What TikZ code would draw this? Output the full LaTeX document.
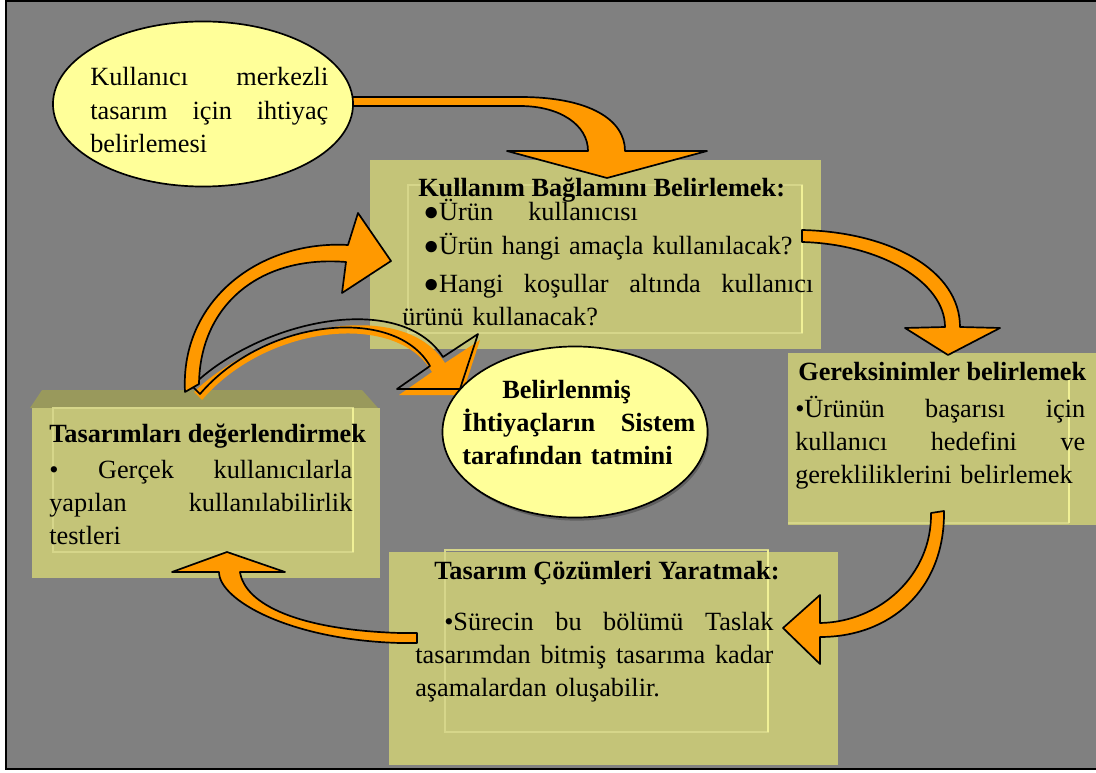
\documentclass[tikz,border=0pt]{standalone}
\usepackage{fontspec}
\setmainfont{Liberation Serif}
\usetikzlibrary{shapes.geometric}

\definecolor{slidegray}{RGB}{128,128,128}
\definecolor{panelfill}{RGB}{196,196,120}
\definecolor{panelshade}{RGB}{153,153,92}
\definecolor{panelline}{RGB}{214,214,138}
\definecolor{panelglow}{RGB}{240,240,150}
\definecolor{bubblefill}{RGB}{255,255,153}
\definecolor{bubbleshadow}{RGB}{96,96,96}
\definecolor{arroworange}{RGB}{255,153,0}

\begin{document}
\begin{tikzpicture}[x=0.025cm, y=-0.025cm,
    bodytext/.style={anchor=base west, align=left, inner sep=0pt, font=\fontsize{18.7}{23.5}\selectfont},
    headtext/.style={anchor=base west, inner sep=0pt, font=\fontsize{18.7}{23.5}\selectfont\bfseries},
    bubble/.style={ellipse, draw=black, line width=1.2pt, fill=bubblefill, inner sep=0pt},
    blockarrow/.style={fill=arroworange, draw=black, line width=1.2pt, line join=round},
    panelframe/.style={draw=panelline, line width=1pt},
    paneledge/.style={draw=panelglow, line width=1.6pt}]

    \useasboundingbox (0,0) rectangle (1096,773);

    % Draw the slide background and its frame
    \fill[white] (0,0) rectangle (1096,773);
    \filldraw[fill=slidegray, draw=black, line width=1.5pt] (6,1) rectangle (1110,769);

    % Draw the four process boxes
    \fill[panelfill] (370,160) rectangle (821,349);
    \draw[panelframe] (408,185) rectangle (802,333);
    \draw[paneledge] (802,185) -- (802,333);

    \fill[panelfill] (788,353) rectangle (1110,525);
    \draw[panelframe] (788,523) -- (1069,523);
    \draw[paneledge] (1069,380) -- (1069,523);

    \fill[panelfill] (389,552) rectangle (838,765);
    \draw[panelframe] (445,550) rectangle (768,732);
    \draw[paneledge] (768,550) -- (768,732);

    \fill[panelshade] (30,408) -- (42,390) -- (362,390) -- (378,408) -- cycle;
    \fill[panelfill] (32,408) rectangle (380,578);
    \draw[panelframe] (53,408) rectangle (353,552);
    \draw[paneledge] (353,408) -- (353,552);

    % Draw the shadowed arrow to the centre
    \fill[arroworange, shift={(2,6)}] (192,386) .. controls (260,320) and (400,290) .. (443,357)
        -- (478,334) -- (460,389) -- (397,389) -- (430,366)
        .. controls (395,305) and (265,318) .. (200,394) -- cycle;
    \draw[black, line width=1.2pt, line join=round] (192,386) .. controls (260,320) and (400,290) .. (443,357)
        -- (478,334) -- (460,389) -- (397,389) -- (430,366)
        .. controls (395,305) and (265,318) .. (200,394) -- cycle;

    % Draw the curved arrows of the cycle
    \filldraw[blockarrow] (185,392) .. controls (180,300) and (260,240) .. (348,245)
        -- (358,213) -- (391,261) -- (342,293) -- (346,262)
        .. controls (260,255) and (200,305) .. (199,384) -- cycle;
    \filldraw[blockarrow] (345,97) -- (520,97) .. controls (590,97) and (625,120) .. (625,151)
        -- (707,151) -- (607,178) -- (507,151) -- (588,151)
        .. controls (588,125) and (560,106) .. (520,106) -- (345,106) -- cycle;
    \filldraw[blockarrow] (802,230) .. controls (890,232) and (960,270) .. (960,327)
        -- (1000,328) -- (948,355) -- (905,328) -- (945,327)
        .. controls (945,282) and (880,244) .. (802,242) -- cycle;
    \filldraw[blockarrow] (931,513) -- (944,511) .. controls (945,590) and (890,637) .. (820,637)
        -- (820,664) -- (783,628) -- (820,595) -- (820,623)
        .. controls (880,622) and (932,575) .. (931,513) -- cycle;
    \filldraw[blockarrow] (417,643) -- (400,643) .. controls (290,640) and (219,600) .. (219,572)
        -- (172,572) -- (227,552) -- (285,572) -- (240,572)
        .. controls (245,605) and (300,630) .. (400,633) -- (417,633) -- cycle;

    % Draw the two ellipses
    \node[bubble, minimum width=7.5cm, minimum height=4.125cm] (need) at (203,104) {};
    \fill[bubbleshadow] (577,435) ellipse (3.3cm and 2.14cm);
    \node[bubble, minimum width=6.625cm, minimum height=4.275cm] (goal) at (575,432) {};

    % Texts of the ellipses
    \node[bodytext, text width=5.95cm] (needtext) at (90,86)
        {Kullanıcı\hfill merkezli\\ tasarım\hfill için\hfill ihtiyaç\\ belirlemesi};
    \node[bodytext, text width=5.825cm, font=\fontsize{18.7}{23.5}\selectfont\bfseries] (goaltext) at (462,398)
        {\hspace*{1cm}Belirlenmiş\\ İhtiyaçların\hfill Sistem\\ tarafından tatmini};

    % Texts of the boxes
    \node[headtext] (contexthead) at (418,197) {Kullanım Bağlamını Belirlemek:};
    \node[bodytext, text width=10.275cm] (contextlist) at (402,221)
        {\hspace*{0.525cm}●Ürün\hspace{25pt}kullanıcısı\\
         \hspace*{0.525cm}●Ürün hangi amaçla kullanılacak?\\[3.5pt]
         \hspace*{0.525cm}●Hangi\hfill koşullar\hfill altında\hfill kullanıcı\\
         ürünü kullanacak?};

    \node[headtext] (reqhead) at (798,380) {Gereksinimler belirlemek};
    \node[bodytext, text width=7.25cm] (reqtext) at (795,417)
        {•Ürünün\hfill başarısı\hfill için\\ kullanıcı\hfill hedefini\hfill ve\\ gerekliliklerini belirlemek};

    \node[headtext] (designhead) at (434,579) {Tasarım Çözümleri Yaratmak:};
    \node[bodytext, text width=8.95cm] (designtext) at (415,630)
        {\hspace*{0.725cm}•Sürecin\hfill bu\hfill bölümü\hfill Taslak\\
         tasarımdan\hfill bitmiş\hfill tasarıma\hfill kadar\\ aşamalardan oluşabilir.};

    \node[headtext] (evalhead) at (49,442) {Tasarımları değerlendirmek};
    \node[bodytext, text width=7.575cm] (evaltext) at (49,478)
        {•\hfill Gerçek\hfill kullanıcılarla\\ yapılan\hfill kullanılabilirlik\\ testleri};
\end{tikzpicture}
\end{document}
